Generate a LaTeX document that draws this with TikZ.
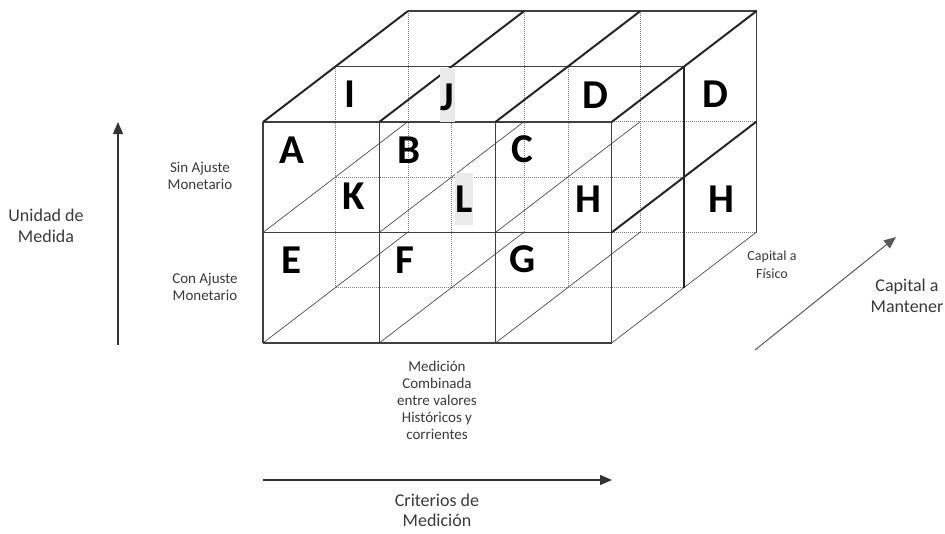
\documentclass[tikz,border=0pt]{standalone}
\usepackage{fontspec}
\setmainfont{Carlito}
\usetikzlibrary{arrows.meta}
\definecolor{txt}{HTML}{3A3A3A}
\definecolor{boxgray}{HTML}{EAEAEA}
\begin{document}
\begin{tikzpicture}[x=1pt,y=-1pt,
  frontline/.style={line width=1.3pt, black!75},
  thickline/.style={line width=2pt, black!85},
  thinline/.style={line width=0.7pt, black!70},
  hiddenline/.style={line width=0.8pt, black!50, dash pattern=on 1pt off 1pt},
  letter/.style={font=\fontsize{41}{41}\selectfont\bfseries, inner sep=0pt, anchor=center},
  lbl/.style={font=\fontsize{15}{17}\selectfont, text=txt, align=center, inner sep=0pt},
  smalllbl/.style={font=\fontsize{14}{18}\selectfont, text=txt, align=center, inner sep=0pt},
  biglbl/.style={font=\fontsize{18}{21}\selectfont, text=txt, align=center, inner sep=0pt},
  axis/.style={line width=1.2pt, black!80, -{Triangle[length=12pt,width=10pt]}},
]
\useasboundingbox (0,0) rectangle (945,533);
% grid points p<i><j><k>: column i, row j (0 = top), depth k (0 = front)
\foreach \i in {0,1,2,3}{\foreach \j in {0,1,2}{\foreach \k in {0,1,2}{
  \coordinate (p\i\j\k) at ({263+116.2*\i+72.5*\k},{122+110.5*\j-55.5*\k});
}}}
% hidden lines
\foreach \i in {0,1,2}{
  \draw[hiddenline] (p\i02) -- (p\i22);
  \draw[hiddenline] (p\i01) -- (p\i21);
}
\foreach \j in {1,2}{
  \draw[hiddenline] (p0\j2) -- (p3\j2);
  \draw[hiddenline] (p0\j1) -- (p3\j1);
}
% thin depth lines
\foreach \i in {0,1,2}{\draw[thinline] (p\i10) -- (p\i12);}
\foreach \i in {0,1,2,3}{\draw[thinline] (p\i20) -- (p\i22);}
% medium solid lines
\draw[frontline] (p002) -- (p302);
\draw[frontline] (p302) -- (p322);
\draw[frontline] (p001) -- (p301);
\foreach \i in {0,1,2,3}{\draw[frontline] (p\i00) -- (p\i20);}
\foreach \j in {0,1,2}{\draw[frontline] (p0\j0) -- (p3\j0);}
% thick lines
\foreach \i in {0,1,2,3}{\draw[thickline] (p\i00) -- (p\i02);}
\draw[thickline] (p310) -- (p312);
\draw[thickline] (p301) -- (p321);
% highlighted letter boxes
\fill[boxgray] (440,68) rectangle (455,122);
\fill[boxgray] (455,173) rectangle (473,225);
% letters
\node[letter] (lI) at (350,94.5) {I};
\node[letter] (lJ) at (447,97) {J};
\node[letter] (lD1) at (595.5,95.5) {D};
\node[letter] (lD2) at (715,94.5) {D};
\node[letter] (lA) at (291.5,150.5) {A};
\node[letter] (lB) at (409,150.5) {B};
\node[letter] (lC) at (522.5,149) {C};
\node[letter] (lK) at (354,196.5) {K};
\node[letter] (lL) at (464,199) {L};
\node[letter] (lH1) at (588.5,199) {H};
\node[letter] (lH2) at (721,199) {H};
\node[letter] (lE) at (291,260) {E};
\node[letter] (lF) at (405,260) {F};
\node[letter] (lG) at (522.5,259) {G};
% labels
\node[lbl] (sin) at (200,175.5) {Sin Ajuste\\Monetario};
\node[lbl] (con) at (205,286.5) {Con Ajuste\\Monetario};
\node[biglbl] (unidad) at (46,226) {Unidad de\\Medida};
\node[lbl] (medcomb) at (437,400) {Medición\\Combinada\\entre valores\\Históricos y\\corrientes};
\node[biglbl, font=\fontsize{18}{20}\selectfont] (crit) at (437,510) {Criterios de\\Medición};
\node[smalllbl] (fis) at (772,265) {Capital a\\Físico};
\node[biglbl] (mant) at (907,296) {Capital a\\Mantener};
% axes arrows
\coordinate (vaB) at (118,345);
\coordinate (vaT) at (118,122);
\draw[axis] (vaB) -- (vaT);
\coordinate (haL) at (263,480);
\coordinate (haR) at (612,480);
\draw[axis] (haL) -- (haR);
\coordinate (daS) at (755,350);
\coordinate (daE) at (896,237);
\draw[axis, line width=1pt, black!65] (daS) -- (daE);
\end{tikzpicture}
\end{document}
